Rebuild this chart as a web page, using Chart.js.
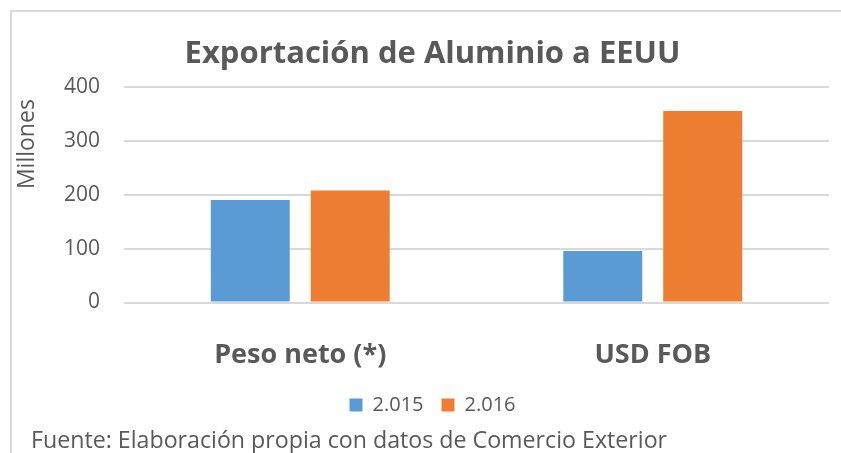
<!DOCTYPE html>
<html>
<head>
<meta charset="utf-8">
<script src="https://cdn.jsdelivr.net/npm/chart.js@4.4.1/dist/chart.umd.min.js"></script>
<style>
  html, body { margin: 0; padding: 0; background: #fff; }
  #wrap { position: relative; width: 841px; height: 453px; overflow: hidden; }
  #frame { position: absolute; left: 10px; top: 10px; width: 900px; height: 500px;
           border-top: 2px solid #d9d9d9; border-left: 2px solid #d9d9d9; }
  #box { position: absolute; left: 0; top: 0; width: 841px; height: 453px; }
  #note { position: absolute; left: 31px; top: 423px; font-family: "Open Sans", sans-serif;
          font-size: 23.2px; color: #595959; white-space: nowrap; }
</style>
</head>
<body>
<div id="wrap">
  <div id="frame"></div>
  <div id="box"><canvas id="exportChart"></canvas></div>
  <div id="note">Fuente: Elaboración propia con datos de Comercio Exterior</div>
</div>
<script>
// values (millones)
var categories = ['Peso neto (*)', 'USD FOB'];
var seriesNames = ['2.015', '2.016'];
var values2015 = [190.5, 95.5];
var values2016 = [208, 356];
var yTicks = [0, 100, 200, 300, 400];

var textGrey = '#595959';

var ctx = document.getElementById('exportChart').getContext('2d');
var exportChart = new Chart(ctx, {
    type: 'bar',
    data: {
        labels: categories,
        datasets: [{
            label: seriesNames[0],
            data: values2015,
            backgroundColor: '#5b9bd5', // blue
            categoryPercentage: 0.567,
            barPercentage: 0.79
        }, {
            label: seriesNames[1],
            data: values2016,
            backgroundColor: '#ed7d31', // orange
            categoryPercentage: 0.567,
            barPercentage: 0.79
        }]
    },
    options: {
        responsive: true,
        maintainAspectRatio: false,
        animation: false,
        layout: { padding: { left: 36, right: 12, top: 0, bottom: 28 } },
        scales: {
            y: {
                min: yTicks[0],
                max: yTicks[yTicks.length - 1],
                afterBuildTicks: function (axis) {
                    axis.ticks = yTicks.map(function (v) { return { value: v }; });
                },
                afterFit: function (axis) { axis.width = 88; },
                border: { display: false },
                grid: { color: '#d9d9d9', lineWidth: 2, drawTicks: false },
                ticks: {
                    color: textGrey,
                    padding: 24,
                    font: { family: 'Open Sans', size: 21 }
                },
                title: {
                    display: true,
                    text: 'Millones\u00a0\u00a0',
                    align: 'end',
                    color: textGrey,
                    padding: { top: -22, bottom: 0 },
                    font: { family: 'Open Sans', size: 23 }
                }
            },
            x: {
                afterFit: function (axis) { axis.height = 74.5; },
                border: { display: false },
                grid: { display: false, drawTicks: false },
                ticks: {
                    color: textGrey,
                    padding: 37,
                    font: { family: 'Open Sans', size: 27, weight: 'bold' }
                }
            }
        },
        plugins: {
            title: {
                display: true,
                text: 'Exportación de Aluminio a EEUU',
                color: textGrey,
                padding: { top: 36, bottom: 14 },
                font: { family: 'Open Sans', size: 31, weight: 'bold' }
            },
            legend: {
                position: 'bottom',
                labels: {
                    color: textGrey,
                    boxWidth: 13,
                    boxHeight: 13,
                    padding: 18,
                    font: { family: 'Open Sans', size: 20 }
                }
            },
            tooltip: { enabled: false }
        }
    }
});
</script>
</body>
</html>
